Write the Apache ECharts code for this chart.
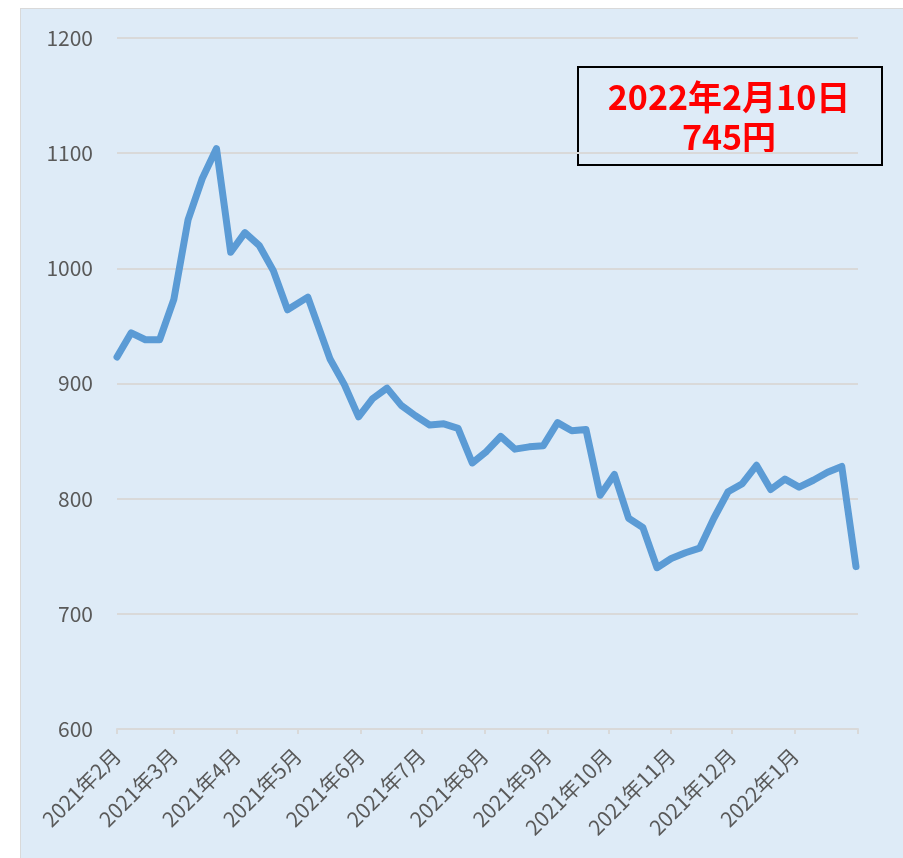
<!DOCTYPE html>
<html>
<head>
<meta charset="utf-8">
<script src="https://cdn.jsdelivr.net/npm/echarts@6/dist/echarts.min.js"></script>
<style>
  html, body { margin: 0; padding: 0; background: #fff; overflow: hidden; }
  #panel { position: absolute; left: 20px; top: 8px; width: 900px; height: 860px;
           background: #deebf7; border: 1px solid #d9d9d9; }
  #main { position: absolute; left: 0; top: 0; width: 903px; height: 858px; }
</style>
</head>
<body>
<div id="panel"></div>
<div id="main"></div>
<script>
// 週ごとの日付（月曜日、GWのみ木曜）
var dates = [
  '2021-02-01', '2021-02-08', '2021-02-15', '2021-02-22', '2021-03-01', '2021-03-08',
  '2021-03-15', '2021-03-22', '2021-03-29', '2021-04-05', '2021-04-12', '2021-04-19',
  '2021-04-26', '2021-05-06', '2021-05-17', '2021-05-24', '2021-05-31', '2021-06-07',
  '2021-06-14', '2021-06-21', '2021-06-28', '2021-07-05', '2021-07-12', '2021-07-19',
  '2021-07-26', '2021-08-02', '2021-08-09', '2021-08-16', '2021-08-23', '2021-08-30',
  '2021-09-06', '2021-09-13', '2021-09-20', '2021-09-27', '2021-10-04', '2021-10-11',
  '2021-10-18', '2021-10-25', '2021-11-01', '2021-11-08', '2021-11-15', '2021-11-22',
  '2021-11-29', '2021-12-06', '2021-12-13', '2021-12-20', '2021-12-27', '2022-01-03',
  '2022-01-10', '2022-01-17', '2022-01-24', '2022-01-31'
];
// 株価（円）
var prices = [
  923, 944, 938, 938, 973, 1042,
  1078, 1104, 1014, 1031, 1020, 998,
  964, 975, 921, 899, 871, 887,
  896, 881, 872, 864, 865, 861,
  831, 841, 854, 843, 845, 846,
  866, 859, 860, 803, 821, 783,
  775, 740, 748, 753, 757, 783,
  806, 813, 829, 808, 817, 810,
  816, 823, 828, 741
];
var axisStart = '2021-02-01';
var axisEnd = '2022-02-01';
var noteText = '2022年2月10日\n745円';

var DAY = 24 * 3600 * 1000;
var seriesData = dates.map(function (d, i) { return [d, prices[i]]; });
var endTime = echarts.time.parse(axisEnd).getTime();

var myChart = echarts.init(document.getElementById('main'));
var option = {
  backgroundColor: 'transparent',
  textStyle: { fontFamily: '"Noto Sans CJK JP", "Noto Sans", sans-serif' },
  animation: false,
  grid: { left: 117, right: 45, top: 38, bottom: 129 },
  xAxis: {
    type: 'time',
    min: axisStart,
    max: axisEnd,
    minInterval: 28 * DAY,
    maxInterval: 31 * DAY,
    axisLine: { show: true, lineStyle: { color: '#d9d9d9', width: 2 } },
    axisTick: { show: true, length: 5, lineStyle: { color: '#d9d9d9', width: 2 } },
    splitLine: { show: false },
    minorTick: { show: false },
    axisLabel: {
      rotate: 45,
      margin: 23,
      color: '#595959',
      fontSize: 21,
      fontWeight: 'normal',
      showMinLabel: true,
      showMaxLabel: false,
      hideOverlap: false,
      formatter: function (value) {
        var d = new Date(value);
        if (d.getTime() >= endTime) return '';
        return d.getFullYear() + '年' + (d.getMonth() + 1) + '月';
      }
    }
  },
  yAxis: {
    type: 'value',
    min: 600,
    max: 1200,
    interval: 100,
    axisLine: { show: false },
    axisTick: { show: false },
    splitLine: { lineStyle: { color: '#d9d9d9', width: 2 } },
    axisLabel: {
      color: '#595959', fontSize: 21, margin: 24,
      formatter: function (v) { return String(v); }
    }
  },
  series: [{
    type: 'line',
    data: seriesData,
    showSymbol: false,
    symbol: 'none',
    lineStyle: { color: '#5b9bd5', width: 7, join: 'round', cap: 'round' },
    itemStyle: { color: '#5b9bd5' }
  }],
  graphic: [{
    type: 'group',
    z: 100,
    children: [{
      type: 'rect',
      shape: { x: 578, y: 67, width: 304, height: 98 },
      style: { fill: 'none', stroke: '#000', lineWidth: 2 }
    }, {
      type: 'text',
      x: 729,
      y: 117,
      style: {
        text: noteText,
        fill: '#ff0000',
        font: 'bold 34px "Noto Sans CJK JP", sans-serif',
        align: 'center',
        verticalAlign: 'middle',
        lineHeight: 40
      }
    }]
  }]
};
myChart.setOption(option);
</script>
</body>
</html>
